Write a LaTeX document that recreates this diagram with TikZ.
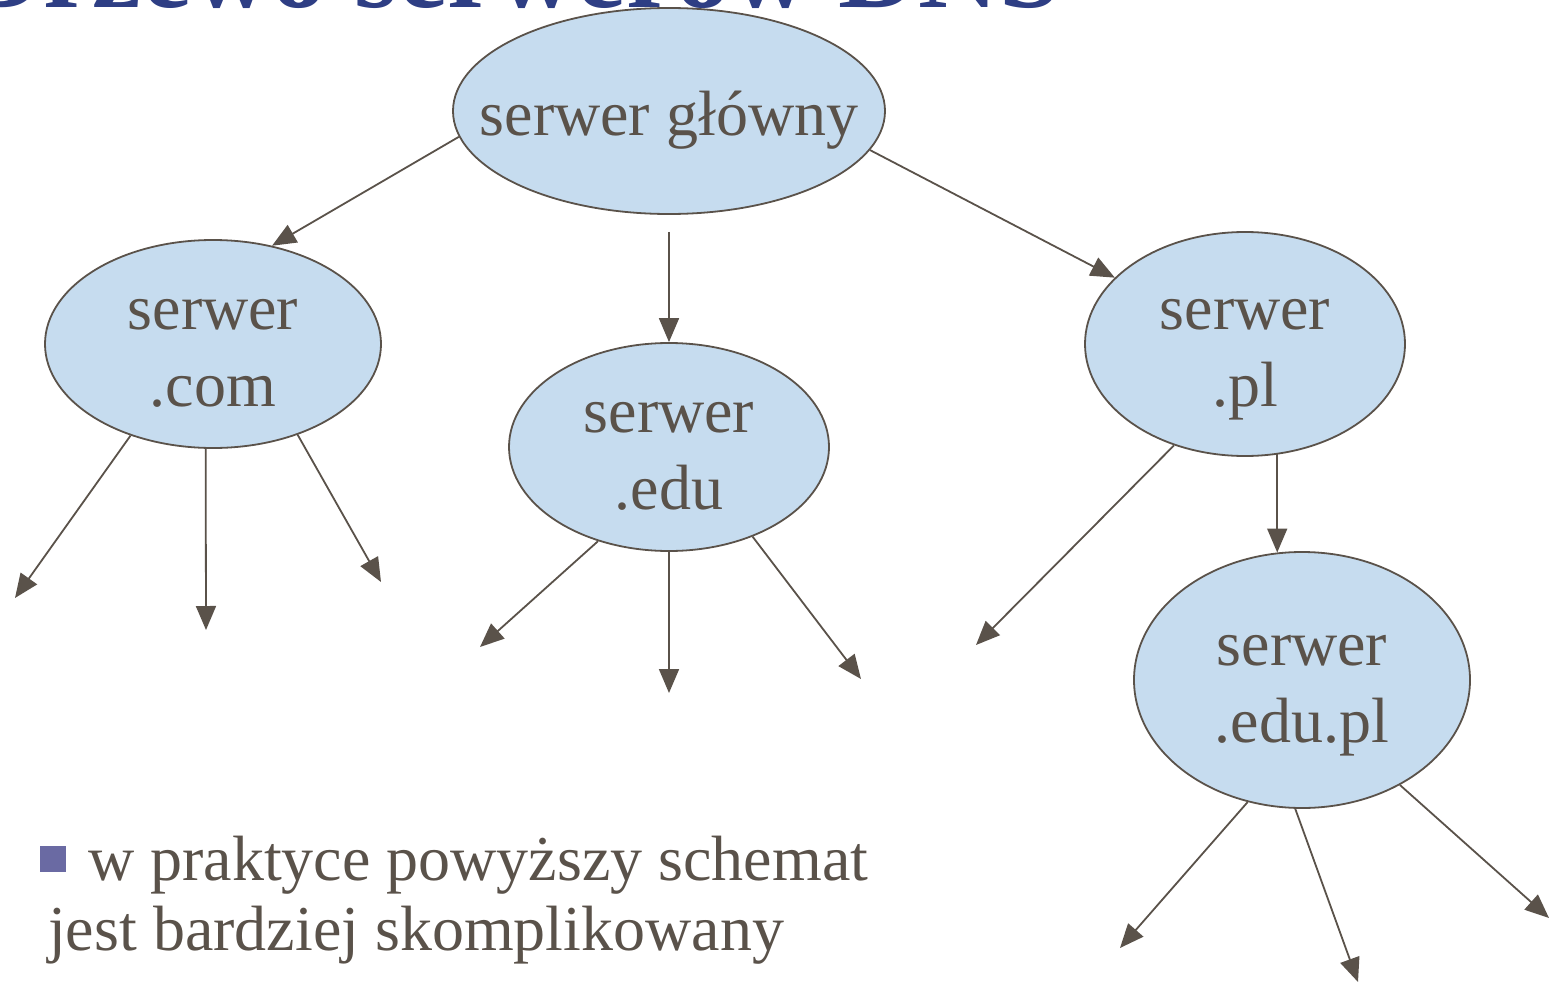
\documentclass[tikz,border=0pt]{standalone}
\usepackage{fontspec}
\setmainfont{Liberation Serif}
\usetikzlibrary{shapes.geometric,arrows.meta}
\definecolor{serwer}{RGB}{198,220,239}
\definecolor{linia}{RGB}{90,82,74}
\definecolor{tytul}{RGB}{46,62,132}
\definecolor{punkt}{RGB}{106,106,163}
\tikzset{
  dns/.style={ellipse, draw=linia, line width=1.8pt, fill=serwer, inner sep=0pt,
    align=center, text=linia, font=\fontsize{64}{77}\selectfont,
    text height=124pt, text depth=0pt},
  strz/.style={draw=linia, line width=1.8pt, -{Triangle[length=24pt,width=20pt]}}
}

\begin{document}
\begin{tikzpicture}[x=1pt,y=-1pt]
\useasboundingbox (0,0) rectangle (1553,982);
\node [anchor=base west, text=tytul, font=\fontsize{111}{111}\selectfont\bfseries] (tytul) at (-40,8) {Drzewo serwerów DNS};

\node [dns, minimum width=432pt, minimum height=206pt, inner xsep=-40pt, text height=48pt, text depth=0pt] (glowny) at (669,111) {serwer główny};
\node [dns, minimum width=336pt, minimum height=208pt] (com) at (213,344) {serwer\\.com};
\node [dns, minimum width=320pt, minimum height=208pt] (edu) at (669,447) {serwer\\.edu};
\node [dns, minimum width=320pt, minimum height=224pt] (pl) at (1245,344) {serwer\\.pl};
\node [dns, minimum width=336pt, minimum height=256pt] (edupl) at (1302,680) {serwer\\.edu.pl};

\coordinate (com1) at (15,598);
\coordinate (com2) at (206,630);
\coordinate (com3) at (381,582);
\coordinate (edu1) at (480,647);
\coordinate (edu2) at (669,693);
\coordinate (edu3) at (861,679);
\coordinate (pl1) at (976,645);
\coordinate (edupl1) at (1120,948);
\coordinate (edupl2) at (1358,982);
\coordinate (edupl3) at (1549,918);

\draw [strz] (glowny.187) -- (com.59);
\draw [strz, shorten <=17pt] (glowny.south) -- (edu.north);
\draw [strz] (glowny.349) -- (pl.153);

\draw [strz] (com.228) -- (com1);
\draw [strz] (com.266) -- (com2);
\draw [strz] (com.313) -- (com3);

\draw [strz] (edu.233) -- (edu1);
\draw [strz] (edu.south) -- (edu2);
\draw [strz] (edu.313) -- (edu3);

\draw [strz] (pl.235) -- (pl1);
\draw [strz] (edupl.101 |- pl.288) -- (edupl.101);

\draw [strz] (edupl.246) -- (edupl1);
\draw [strz] (edupl.267) -- (edupl2);
\draw [strz] (edupl.313) -- (edupl3);

\node [anchor=base west, align=left, text=linia, inner sep=0pt, font=\fontsize{64}{70}\selectfont] (uwaga) at (48,950)
  {\hspace*{-8pt}\textcolor{punkt}{\raisebox{8pt}{\rule{26pt}{26pt}}}\hspace{22pt}w praktyce powyższy schemat\\ jest bardziej skomplikowany};
\end{tikzpicture}
\end{document}
